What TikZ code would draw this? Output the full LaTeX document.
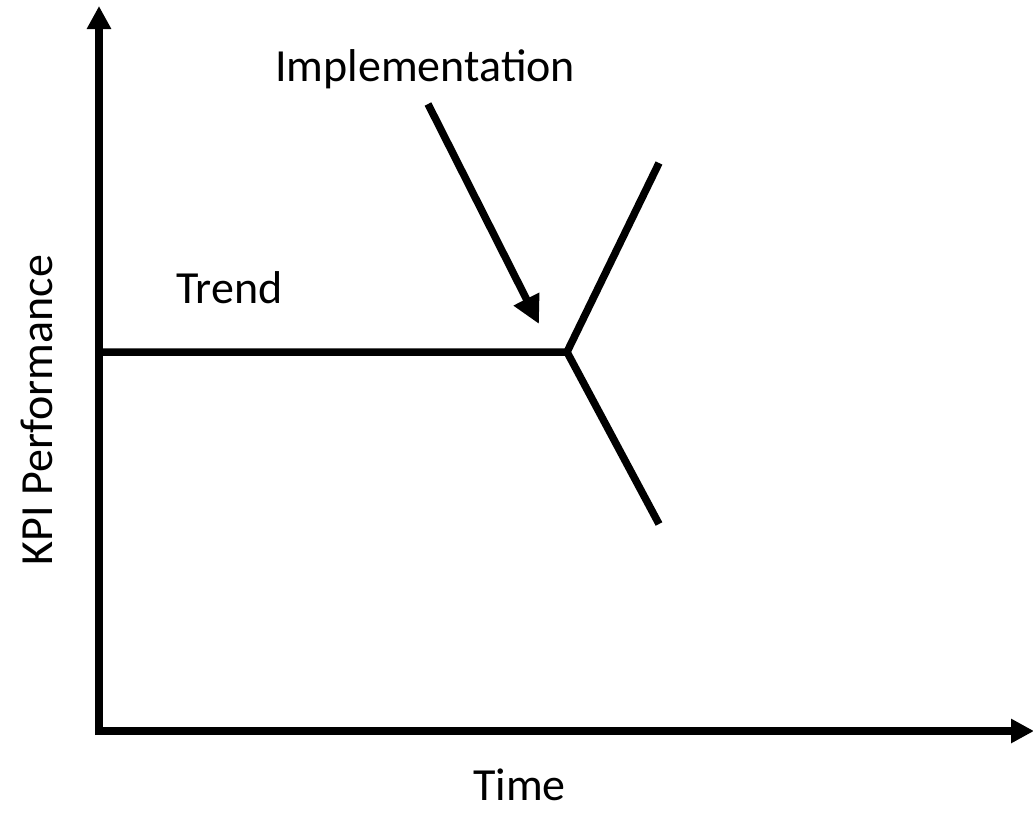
\documentclass[tikz,border=0pt]{standalone}
\usepackage{fontspec}
\setmainfont{Carlito}
\usetikzlibrary{arrows.meta}
\begin{document}
\begin{tikzpicture}[x=1pt,y=-1pt,
  axis/.style={line width=7.5pt,-{Triangle[width=23pt,length=23pt]}},
  trendline/.style={line width=7.5pt,line join=miter},
  pointer/.style={line width=7.5pt,-{Triangle[width=27pt,length=28pt]}},
  lbl/.style={font=\fontsize{46}{54}\selectfont,inner sep=0pt}]
\useasboundingbox (0,0) rectangle (1033,817);
% axes
\coordinate (ybot) at (99,735);
\coordinate (ytop) at (99,6);
\coordinate (xleft) at (95,731);
\coordinate (xright) at (1034,731);
\draw[axis] (ybot) -- (ytop);
\draw[axis] (xleft) -- (xright);
% trend and the two possible outcomes
\coordinate (start) at (99,352);
\coordinate (split) at (567,352);
\coordinate (up) at (659,163);
\coordinate (down) at (659,524);
\draw[trendline] (start) -- (split) -- (up);
\draw[trendline] (split) -- (down);
% labels
\node[lbl,anchor=base west] (impl) at (275,81) {Implementation};
\node[lbl,anchor=base west] (trend) at (176,303) {Trend};
\node[lbl,anchor=base west] (time) at (473,800) {Time};
\node[lbl,rotate=90,anchor=base] (kpi) at (52,410) {KPI Performance};
% pointer to the implementation moment
\coordinate (pfrom) at (428,104);
\coordinate (pto) at (539,324);
\draw[pointer] (pfrom) -- (pto);
\end{tikzpicture}
\end{document}
